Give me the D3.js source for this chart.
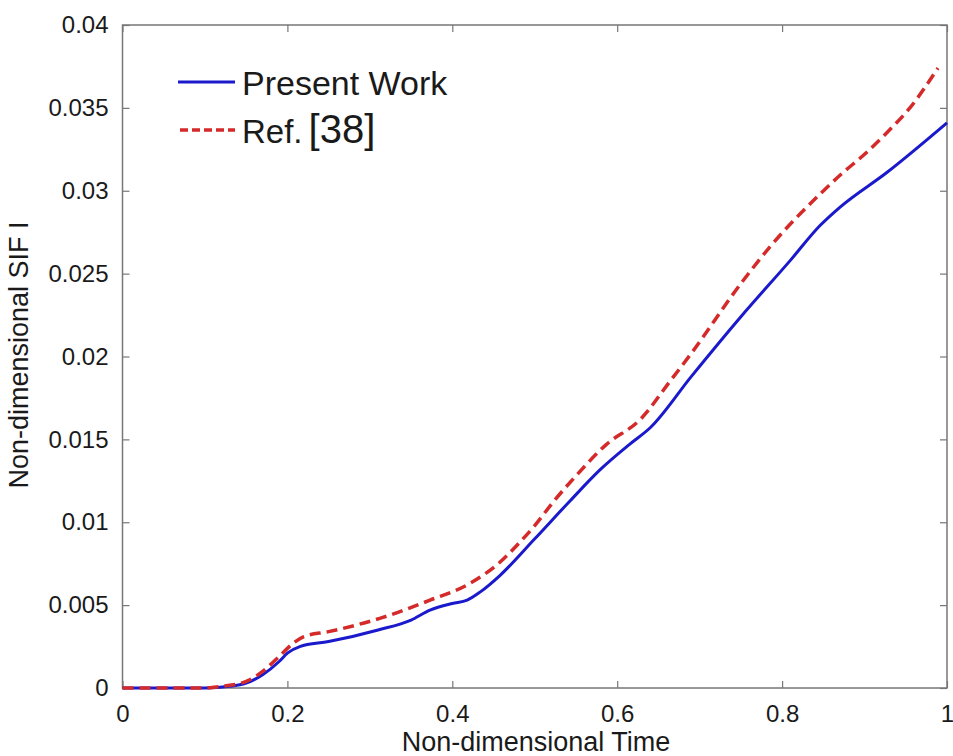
<!DOCTYPE html>
<html>
<head>
<meta charset="utf-8">
<script src="https://cdn.jsdelivr.net/npm/d3@7"></script>
<style>
  body { margin: 0; background: #fff; }
  text { font-family: Arial, "Liberation Sans", sans-serif; fill: #1a1a1a; }
</style>
</head>
<body>
<svg id="chart" width="953" height="756"></svg>
<script>
// values
var timeX = [0, 0.1, 0.13, 0.15, 0.17, 0.19, 0.2, 0.215, 0.25, 0.31, 0.35, 0.373, 0.4, 0.418, 0.434, 0.458, 0.5, 0.543, 0.58, 0.615, 0.64, 0.69, 0.75, 0.81, 0.846, 0.87, 0.927, 1.0];
var presentWork = [0, 0, 0.0001, 0.0003, 0.0008, 0.0016, 0.0021, 0.0025, 0.0028, 0.0035, 0.0041, 0.0047, 0.0051, 0.0053, 0.0058, 0.0068, 0.009, 0.0113, 0.0132, 0.0147, 0.0157, 0.0188, 0.0224, 0.0258, 0.0279, 0.029, 0.0311, 0.0341];

var refX = [0, 0.1, 0.12, 0.15, 0.17, 0.19, 0.207, 0.22, 0.25, 0.312, 0.373, 0.421, 0.458, 0.482, 0.5, 0.522, 0.55, 0.587, 0.628, 0.664, 0.69, 0.75, 0.785, 0.846, 0.874, 0.9, 0.927, 0.955, 0.989];
var refValues = [0, 0, 0.0001, 0.0004, 0.001, 0.0019, 0.0027, 0.0031, 0.0034, 0.0042, 0.0053, 0.0063, 0.0076, 0.0088, 0.0098, 0.0112, 0.0128, 0.0147, 0.0162, 0.0185, 0.0202, 0.0244, 0.0266, 0.0298, 0.0311, 0.0322, 0.0335, 0.035, 0.0374];

var xTicks = [0, 0.2, 0.4, 0.6, 0.8, 1];
var yTicks = [0, 0.005, 0.01, 0.015, 0.02, 0.025, 0.03, 0.035, 0.04];

(function () {
    "use strict";
    var plotLeft = 122.5, plotRight = 947, plotTop = 25, plotBottom = 688;

    var svg = d3.select("#chart");

    var x = d3.scaleLinear().domain([0, 1]).range([plotLeft, plotRight]);
    var y = d3.scaleLinear().domain([0, 0.04]).range([plotBottom, plotTop]);

    var fmt = function (d) { return d === 0 ? "0" : String(+d.toFixed(3)); };

    function styleAxis(g) {
        g.select(".domain").remove();
        g.selectAll(".tick line").attr("stroke", "#777").attr("stroke-width", 1.2);
        g.selectAll(".tick text").style("font-size", "24px").attr("fill", "#1a1a1a");
    }

    // bottom / top axes, ticks pointing inward
    svg.append("g").attr("transform", "translate(0," + plotBottom + ")")
        .call(d3.axisBottom(x).tickValues(xTicks).tickFormat(fmt).tickSize(-7).tickPadding(17))
        .call(styleAxis);
    svg.append("g").attr("transform", "translate(0," + plotTop + ")")
        .call(d3.axisTop(x).tickValues(xTicks).tickFormat("").tickSize(-7))
        .call(styleAxis);
    svg.append("g").attr("transform", "translate(" + plotLeft + ",0)")
        .call(d3.axisLeft(y).tickValues(yTicks).tickFormat(fmt).tickSize(-7).tickPadding(14))
        .call(styleAxis);
    svg.append("g").attr("transform", "translate(" + plotRight + ",0)")
        .call(d3.axisRight(y).tickValues(yTicks).tickFormat("").tickSize(-7))
        .call(styleAxis);

    // frame
    svg.append("rect")
        .attr("x", plotLeft).attr("y", plotTop)
        .attr("width", plotRight - plotLeft).attr("height", plotBottom - plotTop)
        .attr("fill", "none").attr("stroke", "#777").attr("stroke-width", 1.5);

    var line = d3.line()
        .x(function (d) { return x(d[0]); })
        .y(function (d) { return y(d[1]); })
        .curve(d3.curveMonotoneX);

    svg.append("path")
        .datum(d3.zip(timeX, presentWork))
        .attr("d", line)
        .attr("fill", "none").attr("stroke", "#1a1acc").attr("stroke-width", 3);

    svg.append("path")
        .datum(d3.zip(refX, refValues))
        .attr("d", line)
        .attr("fill", "none").attr("stroke", "#d42a2a").attr("stroke-width", 3.5)
        .attr("stroke-dasharray", "11,6");

    // legend
    var legend = svg.append("g");
    legend.append("line").attr("x1", 178).attr("x2", 235).attr("y1", 82).attr("y2", 82)
        .attr("stroke", "#1a1acc").attr("stroke-width", 3);
    legend.append("text").attr("x", 242).attr("y", 95).style("font-size", "34px").text("Present Work");
    legend.append("line").attr("x1", 180).attr("x2", 235).attr("y1", 130).attr("y2", 130)
        .attr("stroke", "#d42a2a").attr("stroke-width", 3.5).attr("stroke-dasharray", "8,4");
    var refText = legend.append("text").attr("x", 242).attr("y", 143).style("font-size", "33px");
    refText.append("tspan").text("Ref.");
    refText.append("tspan").attr("dx", 6).style("font-size", "40px").text("[38]");

    // axis titles
    svg.append("text").attr("x", 536).attr("y", 751).attr("text-anchor", "middle")
        .style("font-size", "27px").text("Non-dimensional Time");
    svg.append("text").attr("transform", "translate(28,355) rotate(-90)").attr("text-anchor", "middle")
        .style("font-size", "27px").text("Non-dimensional SIF I");
})();
</script>
</body>
</html>
